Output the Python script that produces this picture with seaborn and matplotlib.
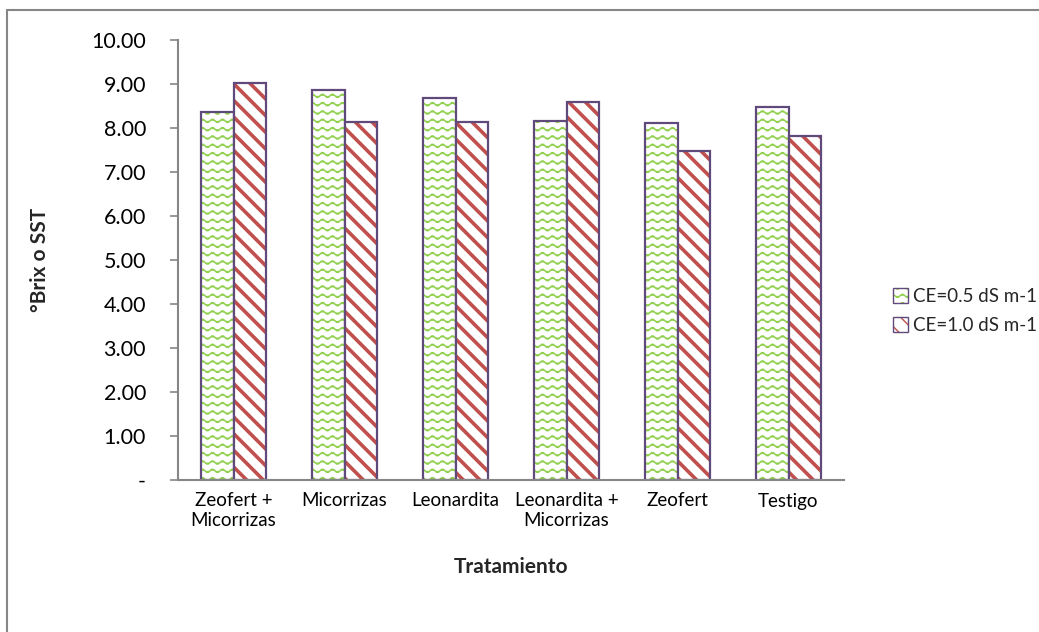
import warnings
warnings.filterwarnings("ignore")
import numpy as np
import pandas as pd
import matplotlib
matplotlib.use("Agg")
import matplotlib.pyplot as plt
import matplotlib.hatch as mhatch
from matplotlib.path import Path
from matplotlib.lines import Line2D
from matplotlib.patches import Patch
from matplotlib.colors import to_rgba
from matplotlib.ticker import FuncFormatter
import seaborn as sns

# ---- data ----
categorias = ["Zeofert +\nMicorrizas", "Micorrizas", "Leonardita",
              "Leonardita +\nMicorrizas", "Zeofert", "Testigo"]
serie_05 = [8.36, 8.86, 8.68, 8.15, 8.12, 8.47]
serie_10 = [9.02, 8.14, 8.13, 8.60, 7.47, 7.81]
series = ["CE=0.5 dS m-1", "CE=1.0 dS m-1"]
y_ticks = [0, 1, 2, 3, 4, 5, 6, 7, 8, 9, 10]


# ---- custom wavy hatch ----
class WaveHatch(mhatch.HatchPatternBase):
    def __init__(self, hatch, density):
        self.num_lines = int(hatch.count('~') * density * 2)
        self.nper = 10
        self.pts = self.nper * 6 + 1
        self.num_vertices = self.num_lines * self.pts

    def set_vertices_and_codes(self, vertices, codes):
        ys = (np.arange(self.num_lines) + 0.5) / self.num_lines
        xs = np.linspace(0, 1, self.pts)
        amp = 0.017
        for i, y in enumerate(ys):
            s = slice(i * self.pts, (i + 1) * self.pts)
            vertices[s, 0] = xs
            vertices[s, 1] = y + amp * np.sin(2 * np.pi * self.nper * xs)
            codes[s] = Path.LINETO
            codes[i * self.pts] = Path.MOVETO


if WaveHatch not in mhatch._hatch_types:
    mhatch._hatch_types.append(WaveHatch)

sns.set_style("white")
plt.rcParams['font.family'] = ['Lato', 'DejaVu Sans']

GREEN = "#92D050"
RED = "#C0504D"
PURPLE = "#604A7B"
GRAY = "#868686"

df = pd.DataFrame({
    "Tratamiento": categorias * 2,
    "valor": serie_05 + serie_10,
    "CE": [series[0]] * len(categorias) + [series[1]] * len(categorias),
})

fig = plt.figure(figsize=(10.39, 6.32), dpi=100)
ax = fig.add_axes([178 / 1039, 1 - 480 / 632, 666 / 1039, 440 / 632])

sns.barplot(data=df, x="Tratamiento", y="valor", hue="CE",
            palette=["white", "white"], width=0.577, ax=ax,
            legend=False, errorbar=None, saturation=1)

styles = [("~", GREEN, 1.1), ("\\\\", RED, 2.6)]


def style_patch(p, hatch, hcolor, hlw):
    p.set_facecolor("white")
    p.set_edgecolor(PURPLE)
    p.set_linewidth(1.6)
    p.set_hatch(hatch)
    p._hatch_color = to_rgba(hcolor)
    if hasattr(p, "set_hatch_linewidth"):
        p.set_hatch_linewidth(hlw)
    else:
        p._hatch_linewidth = hlw


for cont, (h, c, lw) in zip(ax.containers, styles):
    for bar in cont:
        style_patch(bar, h, c, lw)

ax.set_ylim(0, 10)
ax.set_yticks(y_ticks)
ax.yaxis.set_major_formatter(FuncFormatter(lambda v, p: "-" if abs(v) < 1e-9 else f"{v:.2f}"))
ax.set_xlim(-0.5, len(categorias) - 0.5)

for s in ["top", "right"]:
    ax.spines[s].set_visible(False)
for s in ["left", "bottom"]:
    ax.spines[s].set_color(GRAY)
    ax.spines[s].set_linewidth(1.5)

ax.tick_params(axis="y", which="major", left=True, length=6, width=1.2,
               color=GRAY, pad=17, labelsize=15.5, labelcolor="black")
ax.tick_params(axis="x", length=0, pad=9, labelsize=13.5, labelcolor="black")
ax.grid(False)

ax.set_xlabel("Tratamiento", fontsize=15, fontweight="bold", labelpad=20)
ax.set_ylabel("°Brix o SST", fontsize=15, fontweight="bold", labelpad=30)

# legend
handles = []
for (h, c, lw), lab in zip(styles, series):
    hp = Patch(facecolor="white", edgecolor=PURPLE, linewidth=1.0, label=lab)
    style_patch(hp, h, c, 1.0)
    hp.set_linewidth(1.0)
    handles.append(hp)
leg = fig.legend(handles=handles, loc="center left",
                 bbox_to_anchor=(884 / 1039, 1 - 311 / 632), frameon=False,
                 fontsize=13.5, handlelength=0.8, handleheight=0.8,
                 handletextpad=0.25, labelspacing=0.65, borderpad=0)

# outer chart frame (only left and top visible)
fig.add_artist(Line2D([7 / 1039, 7 / 1039], [0, 1 - 10 / 632], color=GRAY, lw=1.5,
                      transform=fig.transFigure))
fig.add_artist(Line2D([7 / 1039, 1], [1 - 10 / 632, 1 - 10 / 632], color=GRAY, lw=1.5,
                      transform=fig.transFigure))

fig.savefig("out.png", dpi=100, facecolor="white")
